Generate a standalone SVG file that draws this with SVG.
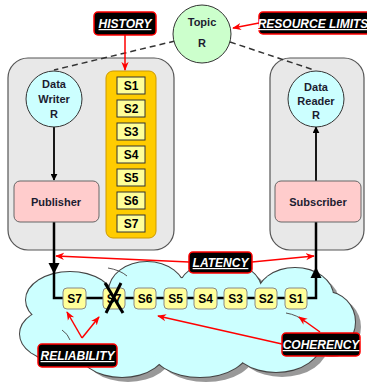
<svg xmlns="http://www.w3.org/2000/svg" width="367" height="384" viewBox="0 0 367 384">
<defs>
<marker id="ab" viewBox="0 0 10 10" refX="9" refY="5" markerWidth="7" markerHeight="7" orient="auto" markerUnits="userSpaceOnUse"><path d="M0,0 L10,5 L0,10 z" fill="#000"/></marker>
<marker id="ar" viewBox="0 0 10 10" refX="9" refY="5" markerWidth="9" markerHeight="9" orient="auto" markerUnits="userSpaceOnUse"><path d="M0,1 L10,5 L0,9 L3,5 z" fill="#f00"/></marker>
<g id="cloudShapes">
<ellipse cx="70" cy="300" rx="44" ry="28"/>
<ellipse cx="147" cy="291" rx="38" ry="29"/>
<ellipse cx="220" cy="292" rx="42" ry="31"/>
<ellipse cx="295" cy="296" rx="38" ry="28"/>
<ellipse cx="326" cy="322" rx="29" ry="30"/>
<ellipse cx="58" cy="334" rx="38" ry="26"/>
<ellipse cx="122" cy="345" rx="46" ry="32"/>
<ellipse cx="200" cy="346" rx="50" ry="31"/>
<ellipse cx="276" cy="340" rx="46" ry="32"/>
<ellipse cx="190" cy="318" rx="125" ry="40"/>
</g>
</defs>
<style>
.box{fill:#e8e8e8;stroke:#555;stroke-width:1.2}
.circ{stroke:#333;stroke-width:1}
.t{font-family:"Liberation Sans",Arial,sans-serif;font-weight:bold;fill:#1c1c30;text-anchor:middle}
.lbl{fill:#000;stroke:#f00;stroke-width:1.5}
.lt{font-family:"Liberation Sans",Arial,sans-serif;font-weight:bold;font-style:italic;text-decoration:underline;fill:#fff;font-size:12px;text-anchor:middle}
.sq{fill:#ffff99;stroke:#333;stroke-width:1}
.sc{fill:#ffff99;stroke:#888;stroke-width:1}
.st{font-family:"Liberation Sans",Arial,sans-serif;font-weight:bold;fill:#000;font-size:12px;text-anchor:middle}
.red{stroke:#f00;stroke-width:1.5;fill:none;marker-end:url(#ar)}
.dash{stroke:#333;stroke-width:1.5;stroke-dasharray:6,4;fill:none}
.crease{fill:none;stroke:#555;stroke-width:1}
</style>

<!-- cloud -->
<g id="cloud">
<use href="#cloudShapes" transform="translate(6,5)" fill="#999"/>
<use href="#cloudShapes" fill="#ccffff" stroke="#444" stroke-width="2"/>
<use href="#cloudShapes" fill="#ccffff"/>
<path class="crease" d="M286 313 Q298 315 305 322"/>
<path class="crease" d="M108 268 Q120 270 127 276"/>
<path class="crease" d="M62 330 Q68 334 70 340"/>
</g>

<g id="writerBox"><rect class="box" x="8" y="58" width="166" height="192" rx="20"/></g>
<g id="readerBox"><rect class="box" x="270" y="58" width="94" height="192" rx="20"/></g>

<g id="connectors">
<line class="dash" x1="175" y1="41" x2="54" y2="70"/>
<line class="dash" x1="230" y1="42" x2="314" y2="70"/>
<line x1="54" y1="127" x2="54" y2="180" stroke="#000" stroke-width="1.8" marker-end="url(#ab)"/>
<line x1="316" y1="181" x2="316" y2="127" stroke="#000" stroke-width="1.8" marker-end="url(#ab)"/>
<path d="M54 222 V298 H316 V222" fill="none" stroke="#000" stroke-width="2.5"/>
<polygon points="48.5,263 59.5,263 54,274" fill="#000"/>
<polygon points="310.5,278 321.5,278 316,267" fill="#000"/>
</g>

<g id="topic"><circle class="circ" cx="202" cy="34" r="29" fill="#ccffcc"/>
<text class="t" x="202" y="26" font-size="11">Topic</text><text class="t" x="202" y="47" font-size="11">R</text></g>

<g id="dataWriter"><circle class="circ" cx="54" cy="99" r="28" fill="#ccffff"/>
<text class="t" x="54" y="88" font-size="11">Data</text><text class="t" x="54" y="103" font-size="11">Writer</text><text class="t" x="54" y="118" font-size="11">R</text></g>

<g id="dataReader"><circle class="circ" cx="316" cy="99" r="28" fill="#ccffff"/>
<text class="t" x="316" y="91" font-size="11">Data</text><text class="t" x="316" y="105" font-size="11">Reader</text><text class="t" x="316" y="119" font-size="11">R</text></g>

<g id="publisher"><rect x="14" y="181" width="85" height="41" rx="6" fill="#ffcccc" stroke="#666"/>
<text class="t" x="56" y="206" font-size="11">Publisher</text></g>
<g id="subscriber"><rect x="275" y="181" width="86" height="41" rx="6" fill="#ffcccc" stroke="#666"/>
<text class="t" x="318" y="206" font-size="11">Subscriber</text></g>

<g id="history">
<rect x="106" y="71" width="50" height="167" rx="7" fill="#ffcc00" stroke="#c90" stroke-width="1"/>
<rect class="sq" x="117" y="77" width="28" height="17"/><text class="st" x="131" y="90">S1</text>
<rect class="sq" x="117" y="100" width="28" height="17"/><text class="st" x="131" y="113">S2</text>
<rect class="sq" x="117" y="123" width="28" height="17"/><text class="st" x="131" y="136">S3</text>
<rect class="sq" x="117" y="146" width="28" height="17"/><text class="st" x="131" y="159">S4</text>
<rect class="sq" x="117" y="169" width="28" height="17"/><text class="st" x="131" y="182">S5</text>
<rect class="sq" x="117" y="192" width="28" height="17"/><text class="st" x="131" y="205">S6</text>
<rect class="sq" x="117" y="215" width="28" height="17"/><text class="st" x="131" y="228">S7</text>
</g>

<g id="samples">
<rect class="sc" x="63" y="288" width="23" height="21" rx="4"/><text class="st" x="74.5" y="303">S7</text>
<rect class="sc" x="103" y="288" width="22" height="21" rx="4"/><text class="st" x="114" y="303">S7</text>
<rect class="sc" x="134" y="288" width="22" height="21" rx="4"/><text class="st" x="145" y="303">S6</text>
<rect class="sc" x="164" y="288" width="23" height="21" rx="4"/><text class="st" x="175.5" y="303">S5</text>
<rect class="sc" x="194" y="288" width="23" height="21" rx="4"/><text class="st" x="205.5" y="303">S4</text>
<rect class="sc" x="224" y="288" width="23" height="21" rx="4"/><text class="st" x="235.5" y="303">S3</text>
<rect class="sc" x="255" y="288" width="22" height="21" rx="4"/><text class="st" x="266" y="303">S2</text>
<rect class="sc" x="285" y="288" width="22" height="21" rx="4"/><text class="st" x="296" y="303">S1</text>
<line x1="105" y1="283" x2="123" y2="313" stroke="#000" stroke-width="3"/>
<line x1="121" y1="283" x2="106" y2="313" stroke="#000" stroke-width="3"/>
</g>

<g id="historyLabel"><rect class="lbl" x="94" y="12" width="62" height="23" rx="4"/><text class="lt" x="125" y="28">HISTORY</text>
<line class="red" x1="125" y1="35" x2="125" y2="70"/></g>

<g id="resourceLabel"><rect class="lbl" x="259" y="12" width="116" height="22" rx="4"/><text class="lt" x="313" y="28">RESOURCE LIMITS</text>
<line class="red" x1="259" y1="23" x2="233" y2="28"/></g>

<g id="latencyLabel"><rect class="lbl" x="189" y="252" width="63" height="21" rx="4"/><text class="lt" x="220.5" y="267">LATENCY</text>
<line class="red" x1="189" y1="262" x2="56" y2="256"/>
<line class="red" x1="252" y1="262" x2="314" y2="256"/></g>

<g id="reliabilityLabel"><rect class="lbl" x="38" y="344" width="79" height="23" rx="4"/><text class="lt" x="77.5" y="360">RELIABILITY</text>
<line class="red" x1="82" y1="338" x2="67" y2="312"/>
<line class="red" x1="82" y1="338" x2="99" y2="317"/></g>

<g id="coherencyLabel"><rect class="lbl" x="282" y="333" width="78" height="23" rx="4"/><text class="lt" x="321" y="349">COHERENCY</text>
<line class="red" x1="320" y1="332" x2="299" y2="317"/>
<line class="red" x1="282" y1="344" x2="158" y2="316"/></g>
</svg>
